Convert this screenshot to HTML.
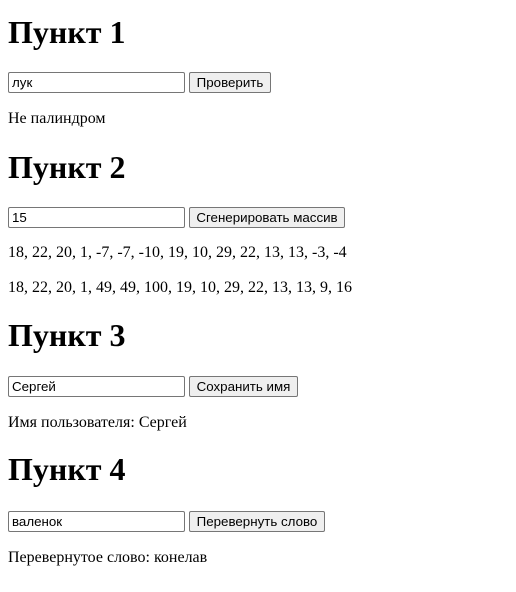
<!DOCTYPE html>
<html><head><meta charset="utf-8"><style>
html,body{margin:0;padding:0;background:#fff;width:516px;height:592px;overflow:hidden;position:relative}
.h{position:absolute;left:8px;font:bold 32px/37px "Liberation Serif",serif;color:#000;white-space:nowrap}
.p{position:absolute;left:8px;font:16px/18px "Liberation Serif",serif;color:#000;white-space:nowrap}
.in{position:absolute;left:8px;width:177px;height:21px;box-sizing:border-box;border:1px solid #767676;border-radius:2px;font:13.33px/19px "Liberation Sans",sans-serif;padding-left:3px;color:#000}
.b{position:absolute;left:189px;height:21px;box-sizing:border-box;border:1px solid #767676;border-radius:2px;background:#efefef;font:13.33px/19px "Liberation Sans",sans-serif;text-align:center;color:#000}
</style></head><body>
<div class="h" style="top:14px">Пункт 1</div>
<div class="in" style="top:72px">лук</div>
<div class="b" style="top:72px;width:82px">Проверить</div>
<div class="p" style="top:110px">Не палиндром</div>

<div class="h" style="top:149px">Пункт 2</div>
<div class="in" style="top:207px">15</div>
<div class="b" style="top:207px;width:156px">Сгенерировать массив</div>
<div class="p" style="top:244px">18, 22, 20, 1, -7, -7, -10, 19, 10, 29, 22, 13, 13, -3, -4</div>
<div class="p" style="top:279px">18, 22, 20, 1, 49, 49, 100, 19, 10, 29, 22, 13, 13, 9, 16</div>

<div class="h" style="top:317px">Пункт 3</div>
<div class="in" style="top:376px">Сергей</div>
<div class="b" style="top:376px;width:109px">Сохранить имя</div>
<div class="p" style="top:414px">Имя пользователя: Сергей</div>

<div class="h" style="top:451px">Пункт 4</div>
<div class="in" style="top:511px">валенок</div>
<div class="b" style="top:511px;width:136px">Перевернуть слово</div>
<div class="p" style="top:549px">Перевернутое слово: конелав</div>
</body></html>
